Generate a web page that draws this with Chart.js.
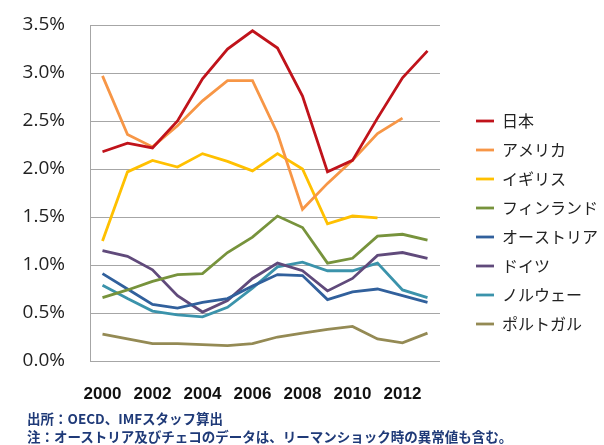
<!DOCTYPE html>
<html>
<head>
<meta charset="utf-8">
<script src="https://cdn.jsdelivr.net/npm/chart.js@4"></script>
<style>
  body { margin: 0; background: #fff; }
  #wrap { position: relative; width: 604px; height: 445px; }
  .note {
    position: absolute; left: 27px; font: bold 13.5px "Noto Sans CJK JP", sans-serif;
    color: #1f3a78; white-space: nowrap; line-height: 16px;
  }
</style>
</head>
<body>
<div id="wrap">
  <canvas id="chart" width="604" height="445"></canvas>
  <div class="note" style="top:410px">出所：OECD、IMFスタッフ算出</div>
  <div class="note" style="top:428px">注：オーストリア及びチェコのデータは、リーマンショック時の異常値も含む。</div>
</div>
<script>
// years on the x axis, every other one labelled
const years = ['2000','2001','2002','2003','2004','2005','2006','2007','2008','2009','2010','2011','2012','2013'];
const xTickYears = ['2000','2002','2004','2006','2008','2010','2012'];
const yTicks = [0, 0.5, 1.0, 1.5, 2.0, 2.5, 3.0, 3.5];

const names = ['日本','アメリカ','イギリス','フィンランド','オーストリア','ドイツ','ノルウェー','ポルトガル'];

const japan    = [2.18, 2.27, 2.22, 2.50, 2.94, 3.25, 3.44, 3.26, 2.76, 1.97, 2.09, 2.53, 2.95, 3.23];
const america  = [2.97, 2.36, 2.23, 2.45, 2.71, 2.92, 2.92, 2.37, 1.58, 1.85, 2.09, 2.37, 2.53, null];
const uk       = [1.25, 1.97, 2.09, 2.02, 2.16, 2.08, 1.98, 2.16, 2.00, 1.43, 1.51, 1.49, null, null];
const finland  = [0.66, 0.74, 0.83, 0.90, 0.91, 1.13, 1.29, 1.51, 1.39, 1.02, 1.07, 1.30, 1.32, 1.26];
const austria  = [0.91, 0.75, 0.59, 0.55, 0.61, 0.65, 0.78, 0.90, 0.89, 0.64, 0.72, 0.75, 0.68, 0.61];
const germany  = [1.15, 1.09, 0.95, 0.68, 0.51, 0.63, 0.86, 1.02, 0.94, 0.73, 0.86, 1.10, 1.13, 1.07];
const norway   = [0.79, 0.65, 0.52, 0.48, 0.46, 0.56, 0.76, 0.98, 1.03, 0.94, 0.94, 1.02, 0.74, 0.66];
const portugal = [0.28, 0.23, 0.18, 0.18, 0.17, 0.16, 0.18, 0.25, 0.29, 0.33, 0.36, 0.23, 0.19, 0.29];

const colors = ['#c0131b','#f79646','#ffc000','#77933c','#31609c','#604a7b','#3b93ab','#948a54'];
const series = [japan, america, uk, finland, austria, germany, norway, portugal];

const gridColor = '#a6a6a6';

new Chart(document.getElementById('chart'), {
  type: 'line',
  data: {
    labels: years,
    datasets: series.map((d, i) => ({
      label: names[i],
      data: d,
      borderColor: colors[i],
      backgroundColor: colors[i],
      borderWidth: 2.8,
      pointRadius: 0,
      tension: 0,
      xAxisID: 'x',
      yAxisID: 'y'
    }))
  },
  options: {
    responsive: false,
    animation: false,
    layout: { padding: { top: 0, right: -4, bottom: 0, left: 0 } },
    plugins: {
      legend: {
        position: 'right',
        maxWidth: 160,
        labels: {
          usePointStyle: true,
          pointStyle: 'line',
          pointStyleWidth: 18,
          padding: 13,
          color: '#222',
          font: { family: '"Noto Sans CJK JP"', size: 16 }
        }
      },
      tooltip: { enabled: false }
    },
    scales: {
      x: {
        type: 'category',
        offset: true,
        grid: { display: false, drawTicks: false },
        border: { display: false },
        afterFit: s => { s.height = 84; },
        ticks: {
          autoSkip: false,
          maxRotation: 0,
          padding: 23,
          color: '#111',
          font: { family: '"Liberation Sans Narrow", "Liberation Sans"', size: 17, weight: 'bold' },
          callback: (v, i) => xTickYears.includes(years[i]) ? years[i] : ''
        }
      },
      // empty boxes that only hold space above and right of the plot
      padTop: {
        type: 'linear',
        position: 'top',
        grid: { display: false },
        border: { display: false },
        ticks: { display: false },
        afterFit: s => { s.height = 25; }
      },
      gapRight: {
        type: 'linear',
        position: 'right',
        grid: { display: false },
        border: { display: false },
        ticks: { display: false },
        afterFit: s => { s.width = 23; }
      },
      y: {
        min: 0,
        max: 3.5,
        afterBuildTicks: s => { s.ticks = yTicks.map(v => ({ value: v })); },
        afterFit: s => { s.width = 90; },
        grid: { color: gridColor, lineWidth: 1, drawTicks: true, tickLength: 25, tickColor: 'rgba(0,0,0,0)' },
        border: { display: true, color: gridColor, width: 1 },
        ticks: {
          padding: 0,
          color: '#222',
          font: { family: '"Open Sans"', size: 19 },
          callback: v => v.toFixed(1) + '%'
        }
      }
    }
  }
});
</script>
</body>
</html>
